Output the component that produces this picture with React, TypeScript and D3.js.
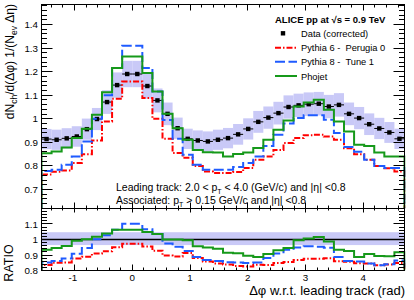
import * as d3 from 'd3';

const W = 414;
const H = 300;

// 36 bins of delta-phi over [-pi/2, 3pi/2]
const nBins = 36;
const phiMin = -Math.PI / 2;
const phiMax = (3 * Math.PI) / 2;

const dataVals = [0.914, 0.911, 0.917, 0.925, 0.956, 0.999, 1.071, 1.143, 1.19, 1.19, 1.139, 1.078,
  1.021, 0.96, 0.915, 0.908, 0.904, 0.911, 0.918, 0.934, 0.957, 0.987, 1.005, 1.024,
  1.05, 1.057, 1.062, 1.064, 1.052, 1.059, 1.021, 1.003, 0.977, 0.959, 0.942, 0.915];

const pythia6 = [0.764, 0.775, 0.781, 0.812, 0.85, 0.908, 0.989, 1.085, 1.158, 1.158, 1.088, 1.0,
  0.915, 0.855, 0.835, 0.8, 0.776, 0.77, 0.77, 0.774, 0.791, 0.826, 0.84, 0.868,
  0.897, 0.918, 0.93, 0.932, 0.925, 0.911, 0.875, 0.85, 0.826, 0.8, 0.79, 0.776];

const pythia8 = [0.779, 0.784, 0.805, 0.84, 0.904, 1.0, 1.1, 1.215, 1.31, 1.31, 1.215, 1.116,
  0.995, 0.915, 0.847, 0.805, 0.784, 0.784, 0.784, 0.795, 0.812, 0.84, 0.885, 0.932,
  0.98, 1.003, 1.015, 1.015, 0.996, 0.94, 0.88, 0.86, 0.826, 0.8, 0.791, 0.791];

const phojet = [0.854, 0.861, 0.878, 0.918, 0.958, 1.017, 1.113, 1.215, 1.264, 1.264, 1.194, 1.116,
  1.021, 0.96, 0.911, 0.868, 0.858, 0.857, 0.84, 0.851, 0.857, 0.876, 0.911, 0.953,
  0.993, 1.052, 1.069, 1.081, 1.038, 0.989, 0.946, 0.89, 0.885, 0.857, 0.84, 0.84];

// relative systematic uncertainty of the data (band)
const sysRel = 0.047;
const ratioBand = [0.964, 1.047];

const xTicks = [-1, 0, 1, 2, 3, 4];
const yMainTicks = [0.7, 0.8, 0.9, 1, 1.1, 1.2, 1.3, 1.4];
const yRatioTicks = [0.8, 0.9, 1, 1.1];

const models = [
  { name: 'Pythia 6 -\u00a0\u00a0Perugia 0', vals: pythia6, color: '#ff0000', dash: '6,2,1.5,2' },
  { name: 'Pythia 8 -\u00a0\u00a0Tune 1', vals: pythia8, color: '#1f5bff', dash: '10,3.5' },
  { name: 'Phojet', vals: phojet, color: '#16991a', dash: undefined },
];

const fr = { left: 41.5, right: 404.5, top: 4.5, mid: 208.5, bottom: 270.5 };
const font = "'Liberation Sans', Arial, sans-serif";

const crisp = (v: number) => Math.round(v - 0.5) + 0.5;

export default function App() {
  const x = d3.scaleLinear().domain([phiMin, phiMax]).range([fr.left, fr.right]);
  const yM = d3.scaleLinear().domain([0.6194, 1.4849]).range([fr.mid, fr.top]);
  const yR = d3.scaleLinear().domain([0.8, 1.2]).range([fr.bottom, fr.mid]);
  const edges = d3.range(nBins + 1).map(i => phiMin + (i * (phiMax - phiMin)) / nBins);

  const step = (vals: number[], y: d3.ScaleLinear<number, number>, base: number) => {
    const pts: [number, number][] = [[edges[0], base]];
    vals.forEach((v, i) => pts.push([edges[i], v]));
    pts.push([edges[nBins], vals[nBins - 1]]);
    pts.push([edges[nBins], base]);
    return d3.line<[number, number]>()
      .x(d => x(d[0]))
      .y(d => y(d[1]))
      .curve(d3.curveStepAfter)(pts) || '';
  };

  const xMinor = d3.range(-7, 24).filter(k => k % 5 !== 0).map(k => k / 5);
  const yMainMinor = d3.range(31, 75).filter(k => k % 5 !== 0).map(k => k / 50);
  const yRatioMinor = d3.range(40, 60).filter(k => k % 5 !== 0).map(k => k / 50);

  const tickLines: JSX.Element[] = [];
  let key = 0;
  const hTick = (yy: number, len: number) => {
    const yc = crisp(yy);
    tickLines.push(<line key={key++} x1={fr.left} x2={fr.left + len} y1={yc} y2={yc} />);
    tickLines.push(<line key={key++} x1={fr.right} x2={fr.right - len} y1={yc} y2={yc} />);
  };
  const vTick = (xx: number, yBase: number, len: number) => {
    const xc = crisp(xx);
    tickLines.push(<line key={key++} x1={xc} x2={xc} y1={yBase} y2={yBase + len} />);
  };
  yMainTicks.forEach(v => hTick(yM(v), 11));
  yMainMinor.forEach(v => hTick(yM(v), 5.5));
  yRatioTicks.forEach(v => hTick(yR(v), 11));
  yRatioMinor.forEach(v => hTick(yR(v), 5.5));
  xTicks.forEach(v => {
    vTick(x(v), fr.top, 6);
    vTick(x(v), fr.mid, -6);
    vTick(x(v), fr.mid, 4);
    vTick(x(v), fr.bottom, -6);
  });
  xMinor.forEach(v => {
    vTick(x(v), fr.top, 3);
    vTick(x(v), fr.mid, -3);
    vTick(x(v), fr.mid, 2);
    vTick(x(v), fr.bottom, -3);
  });

  const bw = x(edges[1]) - x(edges[0]);
  const fmt = (v: number) => (Number.isInteger(v) ? String(v) : v.toFixed(1));

  const legendY = [33.3, 47.7, 61.7, 76];

  return (
    <svg width={W} height={H} style={{ position: 'absolute', left: 0, top: 0, background: '#fff' }}
      fontFamily={font}>
      <defs>
        <clipPath id="clipMain">
          <rect x={fr.left} y={fr.top} width={fr.right - fr.left + 1} height={fr.mid - fr.top} />
        </clipPath>
        <clipPath id="clipRatio">
          <rect x={fr.left} y={fr.mid} width={fr.right - fr.left + 1} height={fr.bottom - fr.mid} />
        </clipPath>
      </defs>
      <rect x={0} y={0} width={W} height={H} fill="#fff" />

      {/* main panel */}
      <g clipPath="url(#clipMain)">
        {dataVals.map((v, i) => (
          <rect key={i} x={x(edges[i])} width={bw} y={yM(v * (1 + sysRel))}
            height={yM(v * (1 - sysRel)) - yM(v * (1 + sysRel))} fill="#c9c9f7" />
        ))}
        {dataVals.map((v, i) => (
          <g key={'d' + i}>
            <line x1={x(edges[i])} x2={x(edges[i + 1])} y1={yM(v)} y2={yM(v)} stroke="#000" strokeWidth={1} />
            <rect x={x((edges[i] + edges[i + 1]) / 2) - 2.2} y={yM(v) - 2.2} width={4.4} height={4.4} fill="#000" />
          </g>
        ))}
        {models.map(m => (
          <path key={m.name} d={step(m.vals, yM, yM.domain()[0])} fill="none" stroke={m.color}
            strokeWidth={2} strokeDasharray={m.dash} />
        ))}
      </g>

      {/* ratio panel */}
      <g clipPath="url(#clipRatio)">
        <rect x={fr.left} width={fr.right - fr.left} y={yR(ratioBand[1])}
          height={yR(ratioBand[0]) - yR(ratioBand[1])} fill="#c9c9f7" />
        <line x1={fr.left} x2={fr.right} y1={crisp(yR(1))} y2={crisp(yR(1))} stroke="#000" strokeWidth={1.5} />
        {models.map(m => (
          <path key={m.name} d={step(m.vals.map((v, i) => v / dataVals[i]), yR, 0.8)} fill="none"
            stroke={m.color} strokeWidth={2} strokeDasharray={m.dash} />
        ))}
      </g>

      {/* frames and ticks */}
      <g stroke="#000" strokeWidth={1} fill="none">
        <rect x={fr.left} y={fr.top} width={fr.right - fr.left} height={fr.mid - fr.top} />
        <rect x={fr.left} y={fr.mid} width={fr.right - fr.left} height={fr.bottom - fr.mid} />
        {tickLines}
      </g>

      {/* tick labels */}
      <g fontSize={9.8} fill="#000">
        {yMainTicks.map(v => (
          <text key={v} x={38} y={yM(v) + 3.5} textAnchor="end">{fmt(v)}</text>
        ))}
        {yRatioTicks.map(v => (
          <text key={v} x={38} y={yR(v) + 3.5} textAnchor="end">{fmt(v)}</text>
        ))}
        {xTicks.map(v => (
          <text key={v} x={x(v) - (v < 0 ? 1.5 : 0)} y={281} textAnchor="middle">{v < 0 ? '-' + Math.abs(v) : v}</text>
        ))}
      </g>

      {/* axis titles */}
      <text transform="translate(13.5,4) rotate(-90)" textAnchor="end" fontSize={12}>
        dN<tspan dy={3} fontSize={8.5}>ch</tspan><tspan dy={-3}>/d(Δφ) 1/(N</tspan>
        <tspan dy={3} fontSize={8.5}>ev</tspan><tspan dy={-3}> Δη)</tspan>
      </text>
      <text transform="translate(12.5,263) rotate(-90)" textAnchor="middle" fontSize={12.5}>RATIO</text>
      <text x={405} y={295} textAnchor="end" fontSize={13}>Δφ w.r.t. leading track (rad)</text>

      {/* legend */}
      <text x={275} y={23} fontSize={9.5} fontWeight="bold">ALICE pp at √s = 0.9 TeV</text>
      <rect x={283 - 2.2} y={legendY[0] - 2.2} width={4.4} height={4.4} fill="#000" />
      <text x={301} y={legendY[0] + 3.5} fontSize={9.3}>Data (corrected)</text>
      {models.map((m, i) => (
        <g key={m.name}>
          <line x1={275} x2={297} y1={legendY[i + 1]} y2={legendY[i + 1]} stroke={m.color}
            strokeWidth={2} strokeDasharray={m.dash} />
          <text x={301} y={legendY[i + 1] + 3.5} fontSize={9.3}>{m.name}</text>
        </g>
      ))}

      {/* selection text */}
      <text x={116} y={191} fontSize={10.5}>
        Leading track: 2.0 {'<'} p<tspan dy={2.5} fontSize={7}>T</tspan><tspan dy={-2.5}> {'<'} 4.0 (GeV/c) and |η| {'<'}0.8</tspan>
      </text>
      <text x={116} y={204} fontSize={10.5}>
        Associated: p<tspan dy={2.5} fontSize={7}>T</tspan><tspan dy={-2.5}> {'>'} 0.15 GeV/c and |η| {'<'}0.8</tspan>
      </text>
    </svg>
  );
}
